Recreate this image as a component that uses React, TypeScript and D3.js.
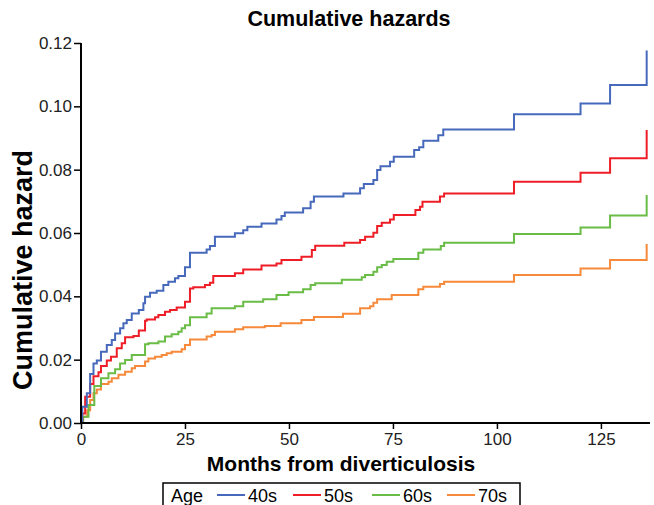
import React, { useEffect, useRef } from "react";
import * as d3 from "d3";

// month / cumulative hazard pairs, one array per age group
const months40 = [0, 0.3, 1.4, 2.2, 3.0, 3.8, 4.8, 6.2, 7.4, 8.2, 9.4, 10.2, 11.0, 12.2, 13.9, 15.0, 15.4, 16.6, 18.2, 19.8, 21.0, 22.6, 23.4, 25.0, 26.2, 30.2, 31.0, 32.2, 37.0, 39.0, 40.0, 43.4, 47.0, 48.2, 49.0, 53.4, 55.2, 56.0, 63.1, 67.1, 68.0, 70.3, 71.2, 72.0, 74.3, 75.2, 80.1, 81.3, 82.3, 85.9, 87.1, 104.1, 120.1, 127.2, 136.0];
const hazard40 = [0, 0.0051, 0.0094, 0.0155, 0.0188, 0.0197, 0.0225, 0.0246, 0.0262, 0.0283, 0.0299, 0.0315, 0.0325, 0.0346, 0.0357, 0.0378, 0.0399, 0.0411, 0.0418, 0.0436, 0.0446, 0.0457, 0.0464, 0.0492, 0.0538, 0.0548, 0.0559, 0.0588, 0.0599, 0.0609, 0.062, 0.063, 0.0643, 0.0654, 0.0665, 0.0678, 0.0699, 0.0715, 0.0725, 0.0741, 0.0755, 0.0767, 0.0799, 0.0811, 0.0825, 0.0841, 0.0862, 0.0871, 0.0891, 0.0909, 0.0927, 0.0975, 0.1009, 0.1067, 0.1176];

const months50 = [0, 0.3, 1.0, 2.2, 3.0, 4.2, 4.8, 6.2, 7.2, 8.6, 9.8, 10.6, 12.6, 13.9, 15.4, 15.8, 17.8, 18.6, 20.2, 21.4, 23.0, 25.0, 26.2, 27.0, 29.8, 31.0, 31.8, 37.0, 39.0, 43.4, 47.0, 48.2, 53.0, 55.5, 56.3, 63.3, 67.1, 68.3, 70.3, 71.2, 72.3, 74.3, 75.2, 80.4, 81.5, 82.1, 86.3, 87.3, 104.1, 120.1, 127.2, 136.0];
const hazard50 = [0, 0.003, 0.0083, 0.0123, 0.0148, 0.016, 0.018, 0.0197, 0.0209, 0.0236, 0.0252, 0.0271, 0.0275, 0.0292, 0.0323, 0.0327, 0.0334, 0.0341, 0.0351, 0.0357, 0.0365, 0.0383, 0.0425, 0.0429, 0.0436, 0.0443, 0.0464, 0.0473, 0.0485, 0.0497, 0.0504, 0.0515, 0.0525, 0.0546, 0.056, 0.0569, 0.0578, 0.0588, 0.0601, 0.0622, 0.0632, 0.0643, 0.0657, 0.0673, 0.0683, 0.0699, 0.0715, 0.0725, 0.0762, 0.079, 0.0836, 0.0925];

const months60 = [0, 0.5, 1.8, 3.2, 4.8, 6.6, 8.2, 9.4, 10.6, 12.2, 15.4, 16.2, 18.6, 20.2, 21.8, 23.4, 24.2, 25.0, 26.2, 30.2, 31.4, 37.0, 39.0, 43.8, 47.0, 49.9, 53.4, 55.2, 56.3, 62.7, 67.5, 68.3, 70.3, 71.2, 72.3, 73.5, 75.1, 81.1, 82.3, 86.5, 87.3, 104.1, 120.1, 127.2, 136.0];
const hazard60 = [0, 0.002, 0.0057, 0.0117, 0.0141, 0.0157, 0.017, 0.0188, 0.0199, 0.0215, 0.0249, 0.0252, 0.0257, 0.0273, 0.028, 0.0288, 0.0299, 0.0309, 0.0334, 0.0346, 0.0362, 0.0369, 0.0383, 0.0391, 0.0404, 0.0413, 0.0422, 0.0436, 0.0441, 0.0452, 0.046, 0.0467, 0.0478, 0.0492, 0.0499, 0.0509, 0.0518, 0.0538, 0.0548, 0.0559, 0.0569, 0.0597, 0.0617, 0.0655, 0.072];

const months70 = [0, 0.5, 1.5, 2.2, 3.0, 3.8, 4.8, 6.6, 7.4, 9.0, 10.6, 12.2, 13.0, 15.4, 16.2, 17.8, 19.4, 20.6, 21.8, 24.2, 25.0, 26.2, 30.2, 31.4, 32.2, 37.0, 39.0, 44.2, 48.0, 53.0, 56.0, 63.0, 67.1, 69.5, 70.3, 71.2, 74.7, 81.1, 82.3, 86.3, 87.3, 104.1, 120.1, 127.2, 136.0];
const hazard70 = [0, 0.002, 0.004, 0.0073, 0.0094, 0.0106, 0.0123, 0.013, 0.0141, 0.0152, 0.0162, 0.0173, 0.018, 0.0194, 0.0204, 0.0209, 0.0215, 0.022, 0.0225, 0.0233, 0.0246, 0.0264, 0.0273, 0.0278, 0.0288, 0.0296, 0.0302, 0.0306, 0.0315, 0.0325, 0.0335, 0.0345, 0.0362, 0.0369, 0.038, 0.0391, 0.0404, 0.0422, 0.043, 0.0439, 0.0446, 0.0467, 0.0488, 0.0515, 0.0565];

const groups = ["40s", "50s", "60s", "70s"];
const groupColors = ["#4669bb", "#ee1d26", "#69bc45", "#f6893a"];
const xTicks = [0, 25, 50, 75, 100, 125];
const yTicks = [0, 0.02, 0.04, 0.06, 0.08, 0.1, 0.12];

const FONT = "'Liberation Sans', Arial, Helvetica, sans-serif";

const App = () => {
  const ref = useRef<SVGSVGElement>(null);

  useEffect(() => {
    const width = 654;
    const height = 505;
    const svg = d3.select(ref.current);
    svg.selectAll("*").remove();
    svg.attr("width", width).attr("height", height);

    const x = d3.scaleLinear().domain([0, 136.8]).range([81, 650]);
    const y = d3.scaleLinear().domain([0, 0.12]).range([423, 43]);

    const series = [
      { months: months40, hazard: hazard40 },
      { months: months50, hazard: hazard50 },
      { months: months60, hazard: hazard60 },
      { months: months70, hazard: hazard70 },
    ];

    const line = d3
      .line<[number, number]>()
      .x(d => x(d[0]))
      .y(d => y(d[1]))
      .curve(d3.curveStepAfter);

    // draw from last to first so the 40s line sits on top
    series
      .map((s, i) => ({ ...s, i }))
      .reverse()
      .forEach(s => {
        const pts = s.months.map((m, k) => [m, s.hazard[k]] as [number, number]);
        svg
          .append("path")
          .attr("d", line(pts))
          .attr("fill", "none")
          .attr("stroke", groupColors[s.i])
          .attr("stroke-width", 2);
      });

    const xAxis = svg
      .append("g")
      .attr("transform", `translate(0,${y(0)})`)
      .call(d3.axisBottom(x).tickValues(xTicks).tickSize(6).tickPadding(4).tickFormat(d3.format("d")));
    xAxis.select(".domain").attr("d", `M${x(0)},0H${x.range()[1]}`).attr("stroke-width", 2);

    const yAxis = svg
      .append("g")
      .attr("transform", `translate(${x(0)},0)`)
      .call(d3.axisLeft(y).tickValues(yTicks).tickSize(7).tickPadding(2).tickFormat(d3.format(".2f")));
    yAxis.select(".domain").attr("d", `M0,${y(0.12)}V${y(0)}`).attr("stroke-width", 2);

    svg.selectAll(".tick line").attr("stroke", "#000").attr("stroke-width", 1.5);
    svg
      .selectAll(".tick text")
      .attr("font-family", FONT)
      .attr("font-size", 17)
      .attr("fill", "#222");

    svg
      .append("text")
      .attr("x", 349)
      .attr("y", 26)
      .attr("text-anchor", "middle")
      .attr("font-family", FONT)
      .attr("font-weight", "bold")
      .attr("font-size", 21.5)
      .text("Cumulative hazards");

    svg
      .append("text")
      .attr("x", 341)
      .attr("y", 471)
      .attr("text-anchor", "middle")
      .attr("font-family", FONT)
      .attr("font-weight", "bold")
      .attr("font-size", 21)
      .text("Months from diverticulosis");

    svg
      .append("text")
      .attr("transform", `translate(32,270) rotate(-90)`)
      .attr("text-anchor", "middle")
      .attr("font-family", FONT)
      .attr("font-weight", "bold")
      .attr("font-size", 27)
      .text("Cumulative hazard");

    // legend
    const legend = svg.append("g");
    legend
      .append("rect")
      .attr("x", 163)
      .attr("y", 483)
      .attr("width", 357)
      .attr("height", 40)
      .attr("fill", "none")
      .attr("stroke", "#000")
      .attr("stroke-width", 1.5);
    legend
      .append("text")
      .attr("x", 171)
      .attr("y", 502)
      .attr("font-family", FONT)
      .attr("font-size", 18)
      .text("Age");
    const legendStarts = [217, 293, 372, 447];
    groups.forEach((g, i) => {
      legend
        .append("line")
        .attr("x1", legendStarts[i])
        .attr("x2", legendStarts[i] + 28)
        .attr("y1", 495)
        .attr("y2", 495)
        .attr("stroke", groupColors[i])
        .attr("stroke-width", 2);
      legend
        .append("text")
        .attr("x", legendStarts[i] + 31)
        .attr("y", 502)
        .attr("font-family", FONT)
        .attr("font-size", 18)
        .text(g);
    });
  }, []);

  return <svg ref={ref} style={{ position: "absolute", left: 0, top: 0 }}></svg>;
};

export default App;
